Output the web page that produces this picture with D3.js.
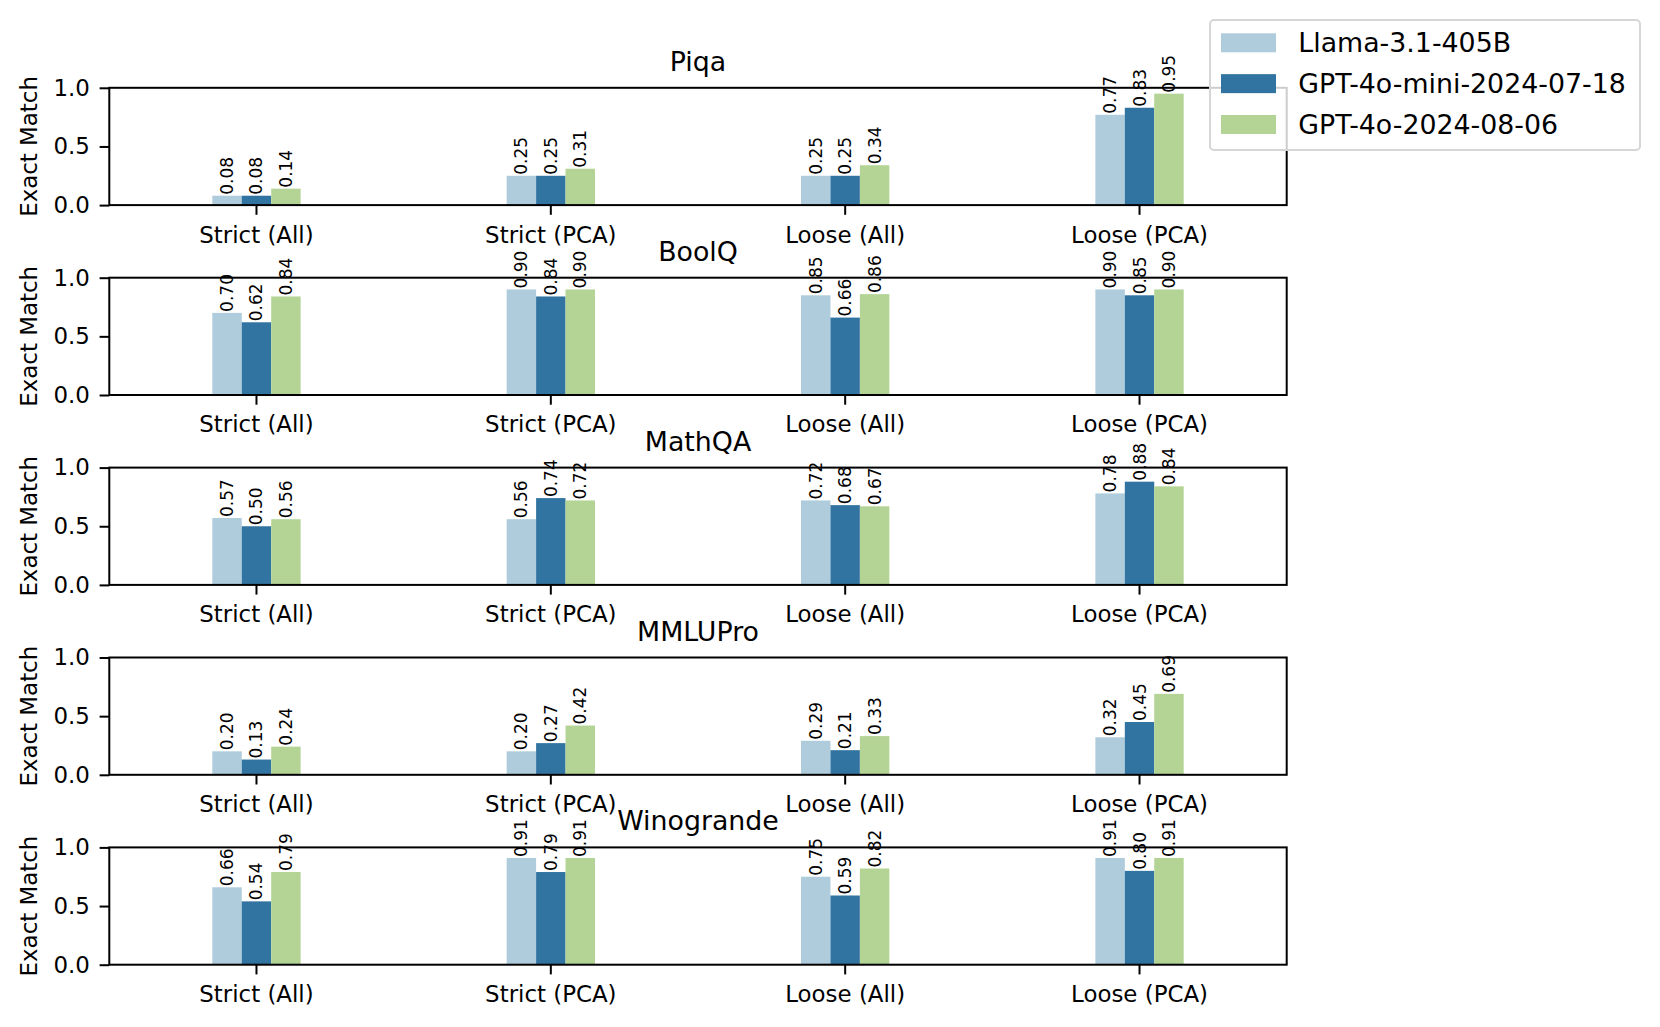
<!DOCTYPE html>
<html>
<head>
<meta charset="utf-8">
<script src="https://cdn.jsdelivr.net/npm/d3@7"></script>
<style>
  body { margin: 0; background: #ffffff; }
  text { font-family: 'DejaVu Sans', sans-serif; fill: #000; }
</style>
</head>
<body>
<div id="container"></div>
<script>
  // data
  const categories = ['Strict (All)', 'Strict (PCA)', 'Loose (All)', 'Loose (PCA)']
  const models = ['Llama-3.1-405B', 'GPT-4o-mini-2024-07-18', 'GPT-4o-2024-08-06']
  const datasets = ['Piqa', 'BoolQ', 'MathQA', 'MMLUPro', 'Winogrande']
  const yTicks = [0.0, 0.5, 1.0]

  // one row per model, one value per category
  const piqaScores = [
    [0.08, 0.25, 0.25, 0.77],
    [0.08, 0.25, 0.25, 0.83],
    [0.14, 0.31, 0.34, 0.95]
  ]
  const boolqScores = [
    [0.70, 0.90, 0.85, 0.90],
    [0.62, 0.84, 0.66, 0.85],
    [0.84, 0.90, 0.86, 0.90]
  ]
  const mathqaScores = [
    [0.57, 0.56, 0.72, 0.78],
    [0.50, 0.74, 0.68, 0.88],
    [0.56, 0.72, 0.67, 0.84]
  ]
  const mmluproScores = [
    [0.20, 0.20, 0.29, 0.32],
    [0.13, 0.27, 0.21, 0.45],
    [0.24, 0.42, 0.33, 0.69]
  ]
  const winograndeScores = [
    [0.66, 0.91, 0.75, 0.91],
    [0.54, 0.79, 0.59, 0.80],
    [0.79, 0.91, 0.82, 0.91]
  ]
  const allScores = [piqaScores, boolqScores, mathqaScores, mmluproScores, winograndeScores]

  const colors = ['#aeccdb', '#3274a1', '#b3d495']

  // layout
  const width = 1660
  const height = 1027
  const axLeft = 109.3
  const axRight = 1286.7
  const firstTop = 87.8
  const panelStep = 189.9
  const panelH = 117.3
  const tickLen = 9.7
  const tickPad = 9.7

  const svg = d3.select('#container')
    .append('svg')
    .attr('width', width)
    .attr('height', height)
    .style('background', '#ffffff')

  const xScale = d3.scaleBand()
    .domain(categories)
    .range([axLeft, axRight])
    .padding(0)

  const bw = xScale.bandwidth()
  const innerScale = d3.scaleBand()
    .domain(models)
    .range([bw * 0.35, bw * 0.65])
    .padding(0)

  const yScale = d3.scaleLinear()
    .domain([0, 1])
    .range([panelH, 0])

  datasets.forEach((name, i) => {
    const top = firstTop + i * panelStep
    const scores = allScores[i]
    const panel = svg.append('g')
      .attr('transform', `translate(0, ${top})`)

    const rows = []
    scores.forEach((vals, m) => {
      vals.forEach((v, c) => rows.push({ model: models[m], cat: categories[c], value: v, m }))
    })

    const barGroups = panel.selectAll(null)
      .data(rows)
      .enter()
      .append('g')

    barGroups.append('rect')
      .attr('x', (d) => xScale(d.cat) + innerScale(d.model))
      .attr('y', (d) => yScale(d.value))
      .attr('width', innerScale.bandwidth())
      .attr('height', (d) => yScale(0) - yScale(d.value))
      .attr('fill', (d) => colors[d.m])

    // rotated value labels
    barGroups.append('text')
      .attr('transform', (d) => {
        const cx = xScale(d.cat) + innerScale(d.model) + innerScale.bandwidth() / 2
        return `translate(${cx}, ${yScale(d.value) - 1}) rotate(-90)`
      })
      .attr('dominant-baseline', 'central')
      .attr('text-anchor', 'start')
      .style('font-size', '17px')
      .text((d) => d.value.toFixed(2))

    // x axis
    const xAxis = panel.append('g')
      .attr('transform', `translate(0, ${panelH})`)
      .call(d3.axisBottom(xScale).tickSize(tickLen).tickPadding(tickPad + 1.8))
    xAxis.select('.domain').remove()
    xAxis.selectAll('line').attr('stroke-width', 2)
    xAxis.selectAll('text').style('font-size', '22.9px').style('font-family', 'DejaVu Sans')

    // y axis
    const yAxis = panel.append('g')
      .attr('transform', `translate(${axLeft}, 0)`)
      .call(d3.axisLeft(yScale).tickValues(yTicks).tickFormat(d3.format('.1f')).tickSize(tickLen).tickPadding(tickPad))
    yAxis.select('.domain').remove()
    yAxis.selectAll('line').attr('stroke-width', 2)
    yAxis.selectAll('text').style('font-size', '22.9px').style('font-family', 'DejaVu Sans')

    // spines
    panel.append('rect')
      .attr('x', axLeft)
      .attr('y', 0)
      .attr('width', axRight - axLeft)
      .attr('height', panelH)
      .attr('fill', 'none')
      .attr('stroke', '#000')
      .attr('stroke-width', 2)

    panel.append('text')
      .attr('x', (axLeft + axRight) / 2)
      .attr('y', -17)
      .attr('text-anchor', 'middle')
      .style('font-size', '26.8px')
      .text(name)

    panel.append('text')
      .attr('transform', `translate(29, ${panelH / 2}) rotate(-90)`)
      .attr('text-anchor', 'middle')
      .attr('dominant-baseline', 'central')
      .style('font-size', '22.9px')
      .text('Exact Match')
  })

  // legend
  const legend = svg.append('g')
  legend.append('rect')
    .attr('x', 1210)
    .attr('y', 20)
    .attr('width', 430)
    .attr('height', 130)
    .attr('rx', 4)
    .attr('fill', 'rgba(255,255,255,0.8)')
    .attr('stroke', '#d6d6d6')
    .attr('stroke-width', 2)

  models.forEach((m, k) => {
    const cy = 42.8 + k * 40.85
    legend.append('rect')
      .attr('x', 1221)
      .attr('y', cy - 9.5)
      .attr('width', 55)
      .attr('height', 19)
      .attr('fill', colors[k])
    legend.append('text')
      .attr('x', 1298.3)
      .attr('y', cy)
      .attr('dominant-baseline', 'central')
      .style('font-size', '26.8px')
      .text(m)
  })
</script>
</body>
</html>
